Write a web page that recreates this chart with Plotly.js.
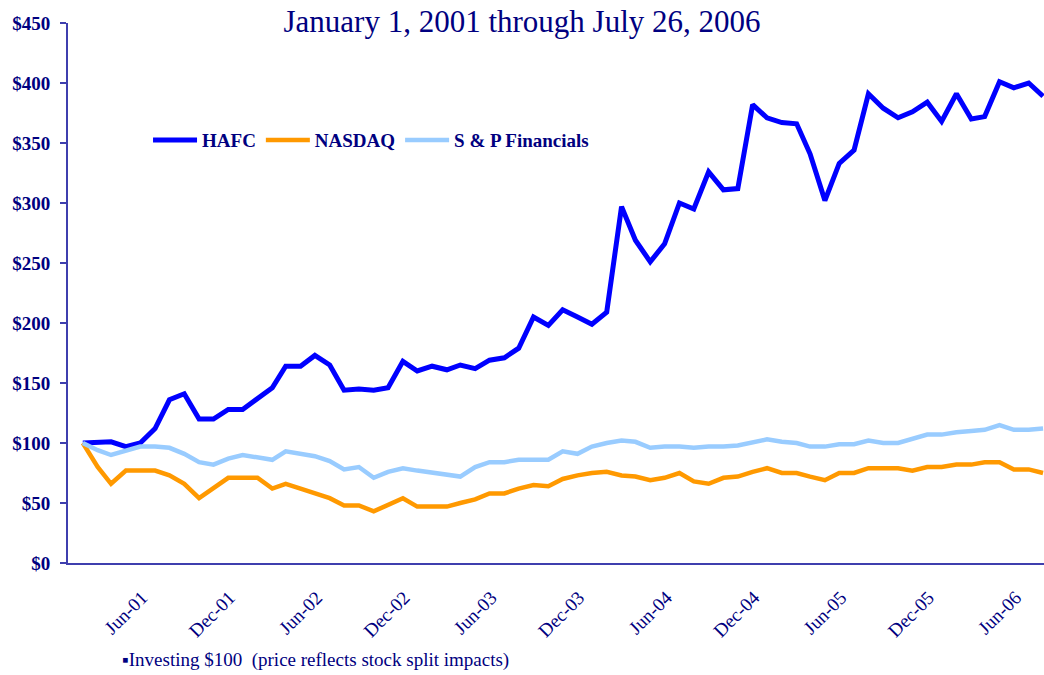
<!DOCTYPE html>
<html>
<head>
<meta charset="utf-8">
<script src="https://cdn.plot.ly/plotly-3.0.1.min.js"></script>
<style>html,body{margin:0;padding:0;background:#fff;}#chart{width:1044px;height:675px;}</style>
</head>
<body>
<div id="chart"></div>
<script>
const months = [
  "2001-01","2001-02","2001-03","2001-04","2001-05","2001-06","2001-07","2001-08","2001-09","2001-10","2001-11","2001-12",
  "2002-01","2002-02","2002-03","2002-04","2002-05","2002-06","2002-07","2002-08","2002-09","2002-10","2002-11","2002-12",
  "2003-01","2003-02","2003-03","2003-04","2003-05","2003-06","2003-07","2003-08","2003-09","2003-10","2003-11","2003-12",
  "2004-01","2004-02","2004-03","2004-04","2004-05","2004-06","2004-07","2004-08","2004-09","2004-10","2004-11","2004-12",
  "2005-01","2005-02","2005-03","2005-04","2005-05","2005-06","2005-07","2005-08","2005-09","2005-10","2005-11","2005-12",
  "2006-01","2006-02","2006-03","2006-04","2006-05","2006-06","2006-07"
];
const hafc = [100,101,101,97,100,112,136,141,120,120,128,128,137,146,164,164,173,165,144,145,
  144,146,168,160,164,161,165,162,169,171,179,205,198,211,205,199,209,297,269,251,
  266,300,295,326,311,312,382,371,367,366,341,302,333,344,391,379,371,376,384,368,
  391,370,372,401,396,400,389];
const nasdaq = [100,80,66,77,77,77,73,66,54,62,71,71,71,62,66,62,58,54,48,48,
  43,48,54,47,47,47,50,53,58,58,62,65,64,70,73,75,76,73,72,69,
  71,75,68,66,71,72,76,79,75,75,72,69,75,75,79,79,79,77,80,80,
  82,82,84,84,78,78,75];
const spFin = [100,94,90,94,97,97,96,91,84,82,87,90,88,86,93,91,89,85,78,80,
  71,76,79,77,75,73,72,80,84,84,86,86,86,93,91,97,100,102,101,96,
  97,97,96,97,97,98,101,103,101,100,97,97,99,99,102,100,100,103,107,107,
  109,110,111,115,111,111,112];
const tickDates = ["2001-06","2001-12","2002-06","2002-12","2003-06","2003-12","2004-06","2004-12","2005-06","2005-12","2006-06"];
const tickLabels = ["Jun-01","Dec-01","Jun-02","Dec-02","Jun-03","Dec-03","Jun-04","Dec-04","Jun-05","Dec-05","Jun-06"];
const seriesNames = ["HAFC","NASDAQ","S & P Financials"];

const navy = "#000080";
const axisCol = "#3f3fae";
const serif = "Liberation Serif, Times New Roman, serif";

const traces = [
  {x: months, y: hafc, name: seriesNames[0], type: "scatter", mode: "lines", line: {color: "#0000ff", width: 5}},
  {x: months, y: nasdaq, name: seriesNames[1], type: "scatter", mode: "lines", line: {color: "#ff9900", width: 4.5}},
  {x: months, y: spFin, name: seriesNames[2], type: "scatter", mode: "lines", line: {color: "#99ccff", width: 4.5}}
];

const layout = {
  width: 1044, height: 675,
  margin: {l: 68, r: 0, t: 23, b: 112},
  paper_bgcolor: "#fff", plot_bgcolor: "#fff",
  hovermode: false,
  title: {text: "January 1, 2001 through July 26, 2006", x: 0.5, xanchor: "center", y: 0.968, yanchor: "middle",
    font: {family: serif, size: 31, color: navy}},
  xaxis: {
    type: "date", range: ["2000-12-01", "2006-07-03"],
    showgrid: false, zeroline: false, showline: true, linecolor: axisCol, linewidth: 2,
    ticks: "", tickvals: tickDates, ticktext: tickLabels, tickangle: -45,
    ticklabelstandoff: 14, ticklabelshift: -13,
    tickfont: {family: serif, size: 19, color: navy}
  },
  yaxis: {
    range: [0, 450], dtick: 50, tickprefix: "$",
    showgrid: false, zeroline: false, showline: true, linecolor: axisCol, linewidth: 2,
    ticks: "outside", ticklen: 6, tickwidth: 1.5, tickcolor: axisCol, ticklabelstandoff: 6,
    tickfont: {family: serif, size: 19, color: navy, weight: "bold"}
  },
  showlegend: true,
  legend: {orientation: "h", x: 0.082, xanchor: "left", y: 0.783, yanchor: "middle", itemwidth: 44,
    bgcolor: "rgba(0,0,0,0)", font: {family: serif, size: 19, color: navy, weight: "bold"}},
  annotations: [{
    text: "▪Investing $100  (price reflects stock split impacts)",
    xref: "paper", yref: "paper", x: 0.053, y: -0.18, xanchor: "left", yanchor: "middle",
    showarrow: false, font: {family: serif, size: 19, color: navy}
  }]
};

Plotly.newPlot("chart", traces, layout, {displayModeBar: false, staticPlot: true});
</script>
</body>
</html>
